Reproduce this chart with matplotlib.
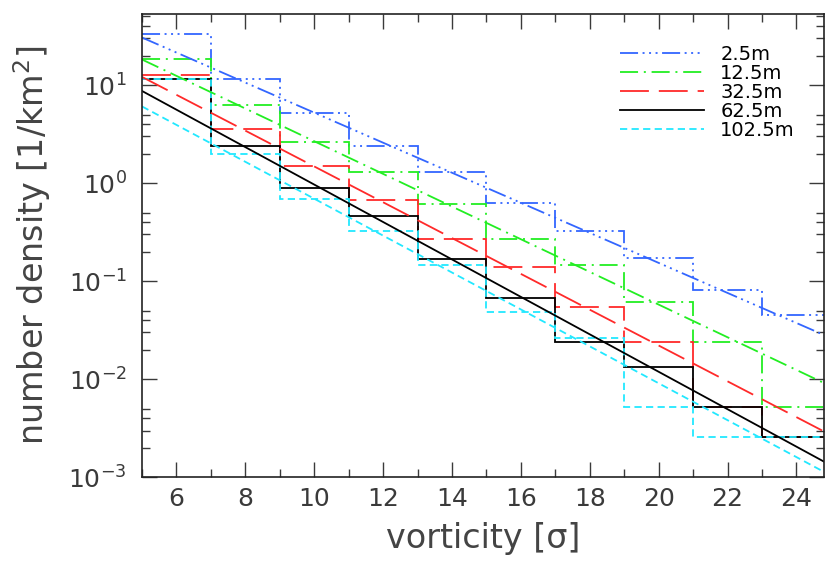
import numpy as np
import matplotlib
matplotlib.use('Agg')
from matplotlib import pyplot as plt
from matplotlib.ticker import LogLocator, NullFormatter, MultipleLocator

# bin edges of the vorticity histograms (sigma)
bin_edges = [5, 7, 9, 11, 13, 15, 17, 19, 21, 23, 25]

labels = ['2.5m', '12.5m', '32.5m', '62.5m', '102.5m']

# number density per bin [1/km^2]
dens_2p5 = [33.0, 11.5, 5.17, 2.37, 1.31, 0.634, 0.321, 0.174, 0.081, 0.0457]
dens_12p5 = [18.5, 6.24, 2.65, 1.29, 0.611, 0.268, 0.146, 0.0615, 0.0240, 0.00525]
dens_32p5 = [12.7, 3.58, 1.48, 0.671, 0.268, 0.139, 0.0543, 0.0240, 0.00525, 0.00259]
dens_62p5 = [11.4, 2.40, 0.891, 0.461, 0.170, 0.0676, 0.0240, 0.0133, 0.00525, 0.00259]
dens_102p5 = [11.4, 2.00, 0.688, 0.326, 0.146, 0.0483, 0.0264, 0.00525, 0.00259, 0.00259]

# exponential fits: value at 5 sigma and slope in decades per sigma
fit_at5 = [30.5, 18.2, 12.1, 8.7, 6.05]
fit_slope = [-0.1532, -0.1666, -0.1826, -0.1909, -0.1882]

dens_all = [dens_2p5, dens_12p5, dens_32p5, dens_62p5, dens_102p5]
colors = ['#3366ff', '#22ee22', '#ff2a2a', 'black', '#22e8ff']
styles = [(0, (10, 2.5, 1.1, 2.5, 1.1, 2.5, 1.1, 2.5)),
          (0, (10, 3.2, 1.1, 3.2)),
          (0, (16, 5.5)),
          '-',
          (0, (4, 2.4))]

plt.rcParams['font.family'] = 'DejaVu Sans'

fig = plt.figure(figsize=(8.25, 5.65), dpi=100)
ax = fig.add_axes([142 / 825, (565 - 477.3) / 565, (824 - 142) / 825, (477.3 - 14) / 565])

xfit = np.array([5.0, 25.0])
handles = []
for i in range(len(labels)):
    ax.stairs(dens_all[i], bin_edges, baseline=None, color=colors[i],
              linestyle=styles[i], linewidth=1.3)
    yfit = fit_at5[i] * 10 ** (fit_slope[i] * (xfit - 5))
    ln, = ax.plot(xfit, yfit, color=colors[i], linestyle=styles[i],
                  linewidth=1.3, label=labels[i])
    handles.append(ln)

ax.set_yscale('log')
ax.set_xlim(5, 24.8)
ax.set_ylim(1e-3, 53)

ax.xaxis.set_major_locator(MultipleLocator(2))
ax.xaxis.set_minor_locator(MultipleLocator(1))
ax.yaxis.set_major_locator(LogLocator(base=10, numticks=20))
ax.yaxis.set_minor_locator(LogLocator(base=10, subs=[2, 3, 4, 5], numticks=20))
ax.yaxis.set_minor_formatter(NullFormatter())

ax.tick_params(which='both', direction='in', top=True, right=True, width=1.0,
               labelsize=18, colors='#3a3a3a')
ax.tick_params(which='major', length=11)
ax.tick_params(which='minor', length=5.5)
ax.tick_params(axis='y', which='both', pad=11)
ax.tick_params(axis='x', which='both', pad=7)
for sp in ax.spines.values():
    sp.set_linewidth(1.2)
    sp.set_color('#222222')

ax.set_xlabel('vorticity [σ]', fontsize=24, color='#444444')
ax.set_ylabel('number density [1/km$^2$]', fontsize=24, color='#444444')
ax.xaxis.set_label_coords(0.5, -0.097)
ax.yaxis.set_label_coords(-0.13, 0.5)

ax.legend(handles=handles, loc='upper left', bbox_to_anchor=(620 / 825, 1 - 45 / 565),
          bbox_transform=fig.transFigure, frameon=False, fontsize=14,
          handlelength=4.3, handletextpad=0.85, labelspacing=0.0, borderpad=0,
          borderaxespad=0)

fig.savefig('out.png', dpi=100)
